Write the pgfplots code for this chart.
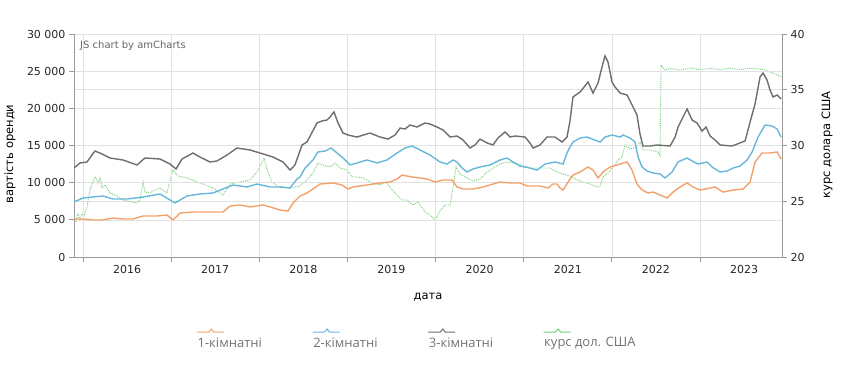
\documentclass[border=0pt]{standalone}
\usepackage{pgfplots}
\pgfplotsset{compat=1.18}
\usepackage{fontspec}
\setmainfont{DejaVu Sans}
\newfontfamily\legfont{Open Sans}
\definecolor{c1}{HTML}{F3A16B}
\definecolor{c2}{HTML}{67B7DC}
\definecolor{c3}{HTML}{6E6E6E}
\definecolor{c4}{HTML}{77CC77}
\definecolor{gridc}{HTML}{E2E2E2}
\definecolor{axc}{HTML}{9A9A9A}
\begin{document}
\begin{tikzpicture}
\pgfplotsset{every axis/.append style={scale only axis, width=708pt, height=223pt,
  xmin=2015.898, xmax=2023.93,
  /pgf/number format/assume math mode=true,
  tick label style={font=\fontsize{11}{13}\selectfont, text=black!85},
  label style={font=\fontsize{11.5}{13}\selectfont},
  grid style={gridc, line width=0.6pt},
  minor grid style={gridc, line width=0.6pt},
  axis line style={axc, line width=0.8pt},
  tick style={axc, line width=0.8pt},
  tick align=outside, major tick length=5pt, minor tick length=5pt}}

% right axis (USD rate) drawn first so that its grid lies underneath
\begin{axis}[axis x line=none, axis y line*=right,
  ymin=20, ymax=40, ytick={20,25,...,40}, ymajorgrids,
  ylabel={курс долара США},
  ylabel style={at={(axis description cs:1.0636,0.502)}, anchor=center}]
\addplot[c4, densely dotted, line width=0.9pt] coordinates {
(2015.898,23.59) (2015.920,23.14) (2015.943,23.95) (2015.966,23.32) (2015.989,23.86) (2016.011,23.68)
(2016.045,24.48) (2016.079,26.01) (2016.136,27.18) (2016.159,26.91) (2016.170,26.64) (2016.193,27.09)
(2016.216,26.19) (2016.250,26.46) (2016.306,25.74) (2016.363,25.56) (2016.454,25.11) (2016.613,24.84)
(2016.647,25.11) (2016.681,26.73) (2016.703,25.83) (2016.760,25.74) (2016.817,26.01) (2016.874,26.19)
(2016.953,25.74) (2016.987,26.91) (2017.021,27.80) (2017.078,27.27) (2017.180,27.09) (2017.327,26.64)
(2017.475,26.19) (2017.588,25.56) (2017.668,26.55) (2017.781,26.73) (2017.895,26.91) (2017.974,27.62)
(2018.031,28.52) (2018.054,28.88) (2018.099,27.62) (2018.144,26.73) (2018.201,26.37) (2018.349,26.19)
(2018.462,26.37) (2018.541,26.91) (2018.609,27.53) (2018.666,28.43) (2018.723,28.25) (2018.802,28.07)
(2018.859,28.43) (2018.916,27.98) (2018.995,27.80) (2019.052,27.18) (2019.109,27.18) (2019.177,27.09)
(2019.279,26.64) (2019.370,26.46) (2019.426,26.73) (2019.483,26.28) (2019.540,25.74) (2019.619,25.11)
(2019.676,25.11) (2019.744,24.66) (2019.801,24.93) (2019.880,24.04) (2019.937,23.77) (2019.994,23.32)
(2020.050,24.13) (2020.107,24.66) (2020.164,24.66) (2020.198,26.19) (2020.232,28.07) (2020.277,27.44)
(2020.357,27.09) (2020.425,26.82) (2020.504,27.00) (2020.584,27.62) (2020.652,27.98) (2020.731,28.34)
(2020.811,28.52) (2020.879,28.43) (2020.958,28.34) (2021.071,27.98) (2021.185,27.98) (2021.298,27.98)
(2021.378,27.62) (2021.446,27.44) (2021.525,27.27) (2021.605,26.91) (2021.673,26.73) (2021.752,26.55)
(2021.832,26.28) (2021.866,26.37) (2021.900,27.18) (2021.956,27.53) (2022.013,28.07) (2022.070,28.70)
(2022.115,28.97) (2022.149,30.05) (2022.206,29.69) (2022.285,29.87) (2022.319,30.31) (2022.353,29.60)
(2022.433,29.60) (2022.524,29.42) (2022.546,29.06) (2022.558,37.22) (2022.603,36.77) (2022.660,36.90)
(2022.773,36.77) (2022.890,36.95) (2023.000,36.80) (2023.120,36.92) (2023.227,36.80) (2023.340,36.95)
(2023.454,36.82) (2023.570,36.92) (2023.681,36.86) (2023.738,36.77) (2023.794,36.59) (2023.851,36.41)
(2023.930,36.14)};
\end{axis}

\begin{axis}[name=ax, axis x line*=bottom, axis y line*=left,
  ymin=0, ymax=30000, ytick={0,5000,...,30000}, scaled y ticks=false,
  yticklabel style={/pgf/number format/1000 sep={\ }},
  ymajorgrids,
  xtick={2016.5,2017.5,...,2023.5},
  xticklabels={2016,2017,2018,2019,2020,2021,2022,2023},
  major x tick style={draw=none},
  minor xtick={2016,2017,...,2023}, xminorgrids,
  ylabel={вартість оренди},
  ylabel style={at={(axis description cs:-0.0904,0.462)}, anchor=center},
  xlabel={дата},
  xlabel style={at={(axis description cs:0.5,-0.179)}, anchor=center},
  legend columns=4,
  legend style={draw=none, fill=none, at={(axis description cs:0.1723,-0.3857)}, anchor=west,
    font=\legfont\fontsize{13}{15}\selectfont, text=black!55, inner sep=0pt, nodes={inner sep=0pt},
    /tikz/every odd column/.append style={column sep=0pt},
    /tikz/every even column/.append style={column sep=50pt}},
  legend image code/.code={\draw[#1, solid, line width=1pt, overlay] (0pt,11pt) -- (12pt,11pt) -- (14.5pt,14pt) -- (17pt,11pt) -- (27pt,11pt); \path (0pt,0pt);}
]
\addplot[c1, line width=1.4pt] coordinates {
(2015.898,5110) (2016.000,5110) (2016.113,4980) (2016.227,4980) (2016.340,5250) (2016.454,5110)
(2016.567,5110) (2016.681,5520) (2016.840,5520) (2016.953,5650) (2017.021,4980) (2017.101,5920)
(2017.248,6050) (2017.588,6050) (2017.668,6860) (2017.781,7000) (2017.895,6730) (2018.042,7000)
(2018.122,6730) (2018.235,6320) (2018.326,6190) (2018.383,7270) (2018.462,8210) (2018.541,8610)
(2018.609,9150) (2018.689,9820) (2018.836,9960) (2018.938,9690) (2019.007,9150) (2019.063,9420)
(2019.222,9690) (2019.370,9960) (2019.483,10090) (2019.563,10490) (2019.619,11030) (2019.733,10760)
(2019.823,10630) (2019.903,10490) (2019.994,10090) (2020.084,10360) (2020.187,10360) (2020.243,9420)
(2020.311,9150) (2020.425,9150) (2020.538,9420) (2020.652,9820) (2020.731,10090) (2020.845,9960)
(2020.958,9960) (2021.037,9550) (2021.185,9550) (2021.276,9280) (2021.332,9820) (2021.378,9820)
(2021.412,9280) (2021.446,9010) (2021.503,10090) (2021.559,11030) (2021.639,11440) (2021.730,12110)
(2021.786,11700) (2021.843,10630) (2021.900,11440) (2021.979,12110) (2022.059,12380) (2022.172,12780)
(2022.229,11700) (2022.285,9820) (2022.342,9010) (2022.410,8610) (2022.467,8740) (2022.546,8340)
(2022.626,7940) (2022.694,8740) (2022.773,9420) (2022.853,9960) (2022.921,9420) (2023.000,9010)
(2023.114,9280) (2023.170,9420) (2023.261,8740) (2023.375,9010) (2023.488,9150) (2023.568,10090)
(2023.624,12780) (2023.704,13990) (2023.794,13990) (2023.874,14130) (2023.919,13180)};
\addlegendentry{1-кімнатні}
\addplot[c2, line width=1.4pt] coordinates {
(2015.898,7400) (2016.000,7940) (2016.113,8070) (2016.227,8210) (2016.340,7800) (2016.499,7800)
(2016.681,8070) (2016.874,8480) (2016.987,7670) (2017.044,7270) (2017.180,8210) (2017.327,8480)
(2017.475,8610) (2017.588,9150) (2017.702,9690) (2017.861,9420) (2017.974,9820) (2018.122,9420)
(2018.235,9420) (2018.349,9280) (2018.428,10490) (2018.462,10760) (2018.519,11970) (2018.609,13050)
(2018.666,14130) (2018.746,14260) (2018.814,14660) (2018.882,13990) (2018.950,13320) (2019.029,12380)
(2019.109,12650) (2019.222,13050) (2019.336,12650) (2019.449,13050) (2019.563,13990) (2019.653,14660)
(2019.733,14930) (2019.823,14400) (2019.937,13720) (2020.050,12780) (2020.130,12510) (2020.198,13050)
(2020.243,12780) (2020.300,11970) (2020.357,11440) (2020.425,11840) (2020.504,12110) (2020.618,12380)
(2020.731,13050) (2020.811,13320) (2020.879,12780) (2020.958,12240) (2021.071,11970) (2021.151,11700)
(2021.242,12510) (2021.355,12780) (2021.446,12510) (2021.491,13990) (2021.525,14800) (2021.559,15470)
(2021.639,16010) (2021.718,16140) (2021.832,15610) (2021.866,15470) (2021.922,16140) (2022.002,16410)
(2022.093,16140) (2022.127,16410) (2022.206,16010) (2022.263,15470) (2022.297,13450) (2022.342,12110)
(2022.399,11570) (2022.467,11300) (2022.546,11170) (2022.603,10630) (2022.683,11440) (2022.751,12780)
(2022.853,13320) (2022.910,12920) (2022.977,12510) (2023.080,12780) (2023.136,12110) (2023.227,11440)
(2023.307,11570) (2023.375,11970) (2023.454,12240) (2023.534,13050) (2023.591,14130) (2023.658,16140)
(2023.738,17760) (2023.817,17620) (2023.874,17220) (2023.919,16140)};
\addlegendentry{2-кімнатні}
\addplot[c3, line width=1.4pt] coordinates {
(2015.898,11970) (2015.966,12650) (2016.045,12780) (2016.136,14260) (2016.193,13990) (2016.306,13320)
(2016.454,13050) (2016.613,12380) (2016.703,13320) (2016.874,13180) (2016.987,12510) (2017.055,11840)
(2017.123,13180) (2017.248,13990) (2017.327,13450) (2017.441,12780) (2017.520,12920) (2017.634,13720)
(2017.747,14660) (2017.895,14400) (2018.008,13990) (2018.156,13450) (2018.269,12780) (2018.349,11700)
(2018.405,12380) (2018.485,15070) (2018.541,15470) (2018.655,18030) (2018.712,18300) (2018.768,18430)
(2018.802,18830) (2018.848,19510) (2018.893,18030) (2018.950,16680) (2019.007,16410) (2019.109,16140)
(2019.256,16680) (2019.370,16140) (2019.460,15870) (2019.540,16410) (2019.597,17350) (2019.653,17220)
(2019.710,17760) (2019.789,17490) (2019.880,18030) (2019.937,17890) (2020.016,17490) (2020.084,17090)
(2020.164,16140) (2020.243,16280) (2020.311,15740) (2020.391,14660) (2020.447,15070) (2020.504,15870)
(2020.584,15340) (2020.652,15070) (2020.708,16010) (2020.788,16820) (2020.845,16140) (2020.901,16280)
(2021.015,16140) (2021.071,15340) (2021.106,14660) (2021.185,15070) (2021.264,16140) (2021.355,16140)
(2021.435,15470) (2021.491,16140) (2021.525,18300) (2021.559,21530) (2021.639,22200) (2021.730,23540)
(2021.786,22060) (2021.843,23410) (2021.888,25560) (2021.922,27040) (2021.956,26230) (2022.002,23540)
(2022.036,22870) (2022.093,22060) (2022.172,21790) (2022.229,20450) (2022.285,19100) (2022.319,16550)
(2022.353,14930) (2022.433,14930) (2022.512,15070) (2022.660,14930) (2022.717,16140) (2022.751,17490)
(2022.853,19910) (2022.910,18430) (2022.966,18030) (2023.023,16950) (2023.068,17490) (2023.114,16280)
(2023.170,15740) (2023.227,15070) (2023.363,14930) (2023.511,15610) (2023.568,18160) (2023.624,20580)
(2023.681,24220) (2023.715,24750) (2023.760,23810) (2023.794,22470) (2023.828,21530) (2023.874,21790)
(2023.919,21260)};
\addlegendentry{3-кімнатні}
\addlegendimage{c4, line width=1pt}
\addlegendentry{курс дол. США}
\node[anchor=north west, font=\fontsize{10}{12}\selectfont, text=black!60, inner sep=0pt]
  at (rel axis cs:0,1) [xshift=6pt, yshift=-7pt] {JS chart by amCharts};
\end{axis}
\pgfresetboundingbox
\path[use as bounding box] ([shift={(-74pt,-108pt)}]ax.south west) rectangle ([shift={(59pt,34pt)}]ax.north east);
\end{tikzpicture}
\end{document}
